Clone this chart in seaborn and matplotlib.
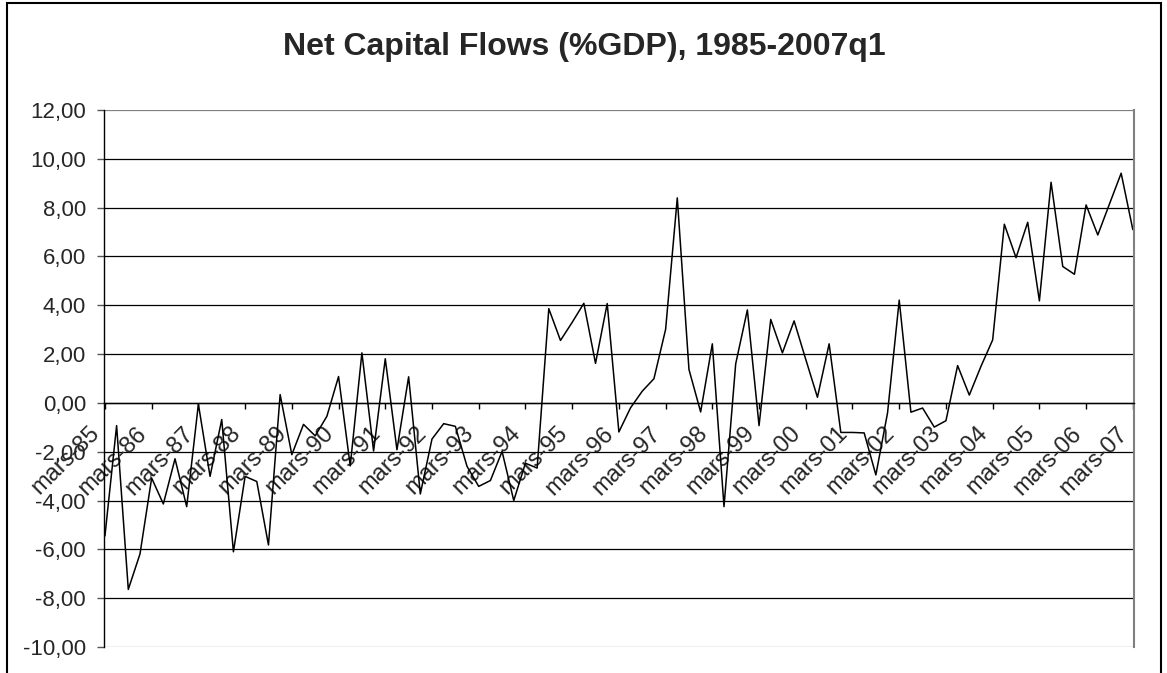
import numpy as np
import pandas as pd
import matplotlib
matplotlib.use("Agg")
import matplotlib.pyplot as plt
from matplotlib.patches import Rectangle
from matplotlib.ticker import FuncFormatter
from matplotlib.transforms import ScaledTranslation
import seaborn as sns

title = "Net Capital Flows (%GDP), 1985-2007q1"

years = list(range(1985, 2008))
tick_labels = ["mars-%02d" % (y % 100) for y in years]

values = [
    -5.45, -0.93, -7.64, -6.19, -3.08, -4.14, -2.29, -4.25,
    -0.05, -3.01, -0.68, -6.10, -3.01, -3.22, -5.82, 0.34,
    -2.12, -0.88, -1.35, -0.55, 1.08, -2.58, 2.05, -1.97,
    1.81, -1.92, 1.07, -3.73, -1.48, -0.85, -0.96, -2.60,
    -3.42, -3.18, -1.99, -4.00, -2.47, -2.67, 3.86, 2.56,
    3.30, 4.08, 1.62, 4.07, -1.19, -0.20, 0.48, 0.99,
    3.01, 8.40, 1.37, -0.37, 2.42, -4.25, 1.60, 3.81,
    -0.93, 3.42, 2.05, 3.36, 1.78, 0.23, 2.42, -1.21,
    -1.21, -1.23, -2.95, -0.41, 4.21, -0.38, -0.21, -0.99,
    -0.73, 1.53, 0.32, 1.50, 2.58, 7.32, 5.95, 7.40,
    4.18, 9.04, 5.59, 5.27, 8.11, 6.88, 8.15, 9.41,
    7.10,
]

y_ticks = list(range(-10, 13, 2))

df = pd.DataFrame({"q": np.arange(len(values)), "v": values})

sns.set_style("white")
plt.rcParams["font.family"] = ["Liberation Sans", "DejaVu Sans"]

fig = plt.figure(figsize=(11.67, 6.73), dpi=100)
ax = fig.add_axes([104 / 1167, 1 - 647 / 673, (1134 - 104) / 1167, (647 - 110) / 673])

sns.lineplot(data=df, x="q", y="v", color="black", linewidth=1.1, ax=ax)

# axis layout first (set_position resets tick styling)
ax.spines["bottom"].set_position(("data", 0))
ax.spines["bottom"].set_color("black")
ax.spines["bottom"].set_linewidth(1.0)
ax.spines["left"].set_color("black")
ax.spines["left"].set_linewidth(1.0)
ax.spines["right"].set_color("#808080")
ax.spines["right"].set_linewidth(1.5)
ax.spines["top"].set_visible(False)

ax.set_xlim(-0.08, len(values) - 1 + 0.1)
ax.set_ylim(-10, 12)
ax.set_yticks(y_ticks)
ax.yaxis.set_major_formatter(FuncFormatter(lambda v, p: ("%.2f" % v).replace(".", ",")))
ax.set_xticks(np.arange(0, len(values), 4))
ax.set_xticklabels(tick_labels, rotation=45, ha="right", va="top",
                   rotation_mode="anchor", fontsize=17)

for y in y_ticks:
    ax.axhline(y, color="#808080" if y in (-10, 12) else "black", linewidth=0.9, zorder=0.5)

ax.tick_params(axis="x", direction="out", length=4, width=1, color="black",
               pad=10, bottom=True)
ax.tick_params(axis="y", direction="out", length=5, width=1, color="#555555",
               labelsize=16, pad=8, left=True)
ax.set_xlabel("")
ax.set_ylabel("")

shift = ScaledTranslation(-16 / 100, 0, fig.dpi_scale_trans)
for lab in ax.get_xticklabels():
    lab.set_transform(lab.get_transform() + shift)

fig.text(584 / 1167, 1 - 47 / 673, title, ha="center", va="center",
         fontsize=23, fontweight="bold")

fig.add_artist(Rectangle((7 / 1167, -0.1), (1161 - 7) / 1167, 1.1 - 3 / 673,
                         transform=fig.transFigure, fill=False, edgecolor="black",
                         linewidth=1.5, clip_on=False))

fig.savefig("out.png", dpi=100)
